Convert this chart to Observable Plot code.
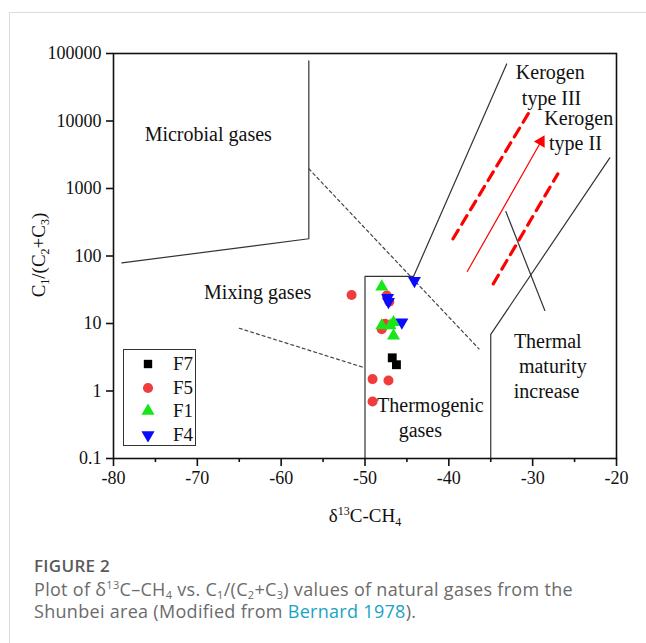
<!DOCTYPE html>
<html>
<head>
<meta charset="utf-8">
<script src="https://cdn.jsdelivr.net/npm/d3@7"></script>
<script src="https://cdn.jsdelivr.net/npm/@observablehq/plot@0.6"></script>
<style>
  html, body { margin: 0; padding: 0; background: #fff; }
  #page { position: relative; width: 646px; height: 643px; overflow: hidden; }
  #card { position: absolute; left: 9px; top: 12px; right: -2px; bottom: -2px;
          border-left: 1px solid #dcdcdc; border-top: 1px solid #dcdcdc; }
  #chart { position: absolute; left: 0; top: 0; }
  #chart svg text { font-family: "Liberation Serif", "Times New Roman", serif; }
  #legend { position: absolute; left: 123px; top: 349px; width: 73px; height: 97px;
            border: 1px solid #333; box-sizing: border-box; background: #fff;
            font-family: "Liberation Serif", serif; font-size: 19px; color: #111; }
  .lrow { position: absolute; left: 0; height: 22px; width: 100%; }
  .lrow svg { position: absolute; left: 17px; top: 4px; }
  .lrow span { position: absolute; left: 49px; top: 0px; line-height: 22px; }
  #caption { position: absolute; left: 34px; top: 553px; width: 610px;
             font-family: "Open Sans", sans-serif; color: #6b6b6b; }
  #caption .fig { font-size: 17px; font-weight: 600; color: #5a5a5a; letter-spacing: 0.3px; line-height: 25px; }
  #caption .txt { font-size: 18px; line-height: 22px; letter-spacing: 0.3px; }
  #caption .sb, #caption .sp { font-size: 11px; line-height: 11px; position: relative; vertical-align: baseline; }
  #caption .sb { top: 3px; }
  #caption .sp { top: -7px; }
  #caption a { color: #1aa3c4; text-decoration: none; }
</style>
</head>
<body>
<div id="page">
  <div id="card"></div>
  <div id="chart"></div>
  <div id="legend"></div>
  <div id="caption">
    <div class="fig">FIGURE 2</div>
    <div class="txt">Plot of δ<span class="sp">13</span>C–CH<span class="sb">4</span> vs. C<span class="sb">1</span>/(C<span class="sb">2</span>+C<span class="sb">3</span>) values of natural gases from the<br>Shunbei area (Modified from <a>Bernard 1978</a>).</div>
  </div>
</div>
<script>
// ---- axis ticks ----
const xTicks = [-80, -70, -60, -50, -40, -30, -20];
const xMinorTicks = [-75, -65, -55, -45, -35, -25];
const yTicks = [0.1, 1, 10, 100, 1000, 10000, 100000];

// ---- series (δ13C-CH4, C1/(C2+C3)) ----
const seriesNames = ["F7", "F5", "F1", "F4"];
const f7 = [[-46.75, 3.1], [-46.25, 2.45]];
const f5 = [[-51.6, 26.5], [-47.4, 26], [-47.1, 21], [-47.6, 9.9], [-48.0, 8.2],
            [-49.1, 1.5], [-47.2, 1.43], [-49.1, 0.7]];
const f1 = [[-48.0, 35], [-48.0, 9.3], [-47.0, 9.3], [-46.6, 10.4], [-46.6, 6.6]];
const f4 = [[-44.1, 43], [-47.3, 24], [-47.2, 21], [-45.6, 10.4]];

// ---- genetic boundaries (modified from Bernard 1978) ----
const microbialBoundary = [[-79, 79], [-56.7, 180], [-56.7, 78000]];
const mixingUpper = [[-56.7, 1960], [-36.4, 4.2]];
const mixingLower = [[-65, 8.5], [-50, 2.2]];
const thermoBox = [[-50, 0.1], [-50, 50], [-44.2, 50]];
const kerogenIII = [[-44.2, 50], [-33.1, 70000]];
const kerogenII = [[-35, 0.1], [-35, 6.9], [-20.8, 2850]];
const maturityPointer = [[-33.2, 456], [-28.55, 15.6]];
const redDash1 = [[-39.5, 180], [-30.5, 13000]];
const redDash2 = [[-34.7, 38.7], [-27.0, 1650]];
const maturityArrow = [[-37.8, 59], [-29.0, 4970]];
const arrowHead = [[-29.0, 4970]];

// ---- annotation labels ----
const labelText = ["Microbial gases", "Mixing gases", "Thermogenic", "gases",
  "Kerogen", "type III", "Kerogen", "type II", "Thermal", "maturity", "increase"];
const labelX = [-68.7, -62.8, -42.2, -43.4, -27.9, -27.75, -24.5, -24.9, -28.2, -27.6, -28.35];
const labelY = [6300, 28.8, 0.61, 0.26, 52400, 21500, 10900, 4640, 5.4, 2.3, 0.98];
const labels = labelText.map((t, i) => ({t, x: labelX[i], y: labelY[i]}));

const pts = a => a.map(([x, y]) => ({x, y}));
const serif = "Liberation Serif, Times New Roman, serif";

const chart = Plot.plot({
  width: 646, height: 540,
  marginTop: 53, marginLeft: 113, marginRight: 30, marginBottom: 82,
  style: {fontFamily: serif, fontSize: "18px", background: "transparent", color: "#111"},
  x: {domain: [-80, -20]},
  y: {type: "log", domain: [0.1, 100000]},
  marks: [
    Plot.line(pts(microbialBoundary), {x: "x", y: "y", stroke: "#333", strokeWidth: 1.2}),
    Plot.line(pts(mixingUpper), {x: "x", y: "y", stroke: "#444", strokeWidth: 1.2, strokeDasharray: "3,3"}),
    Plot.line(pts(mixingLower), {x: "x", y: "y", stroke: "#444", strokeWidth: 1.2, strokeDasharray: "3,3"}),
    Plot.line(pts(thermoBox), {x: "x", y: "y", stroke: "#333", strokeWidth: 1.2}),
    Plot.line(pts(kerogenIII), {x: "x", y: "y", stroke: "#333", strokeWidth: 1.2}),
    Plot.line(pts(kerogenII), {x: "x", y: "y", stroke: "#333", strokeWidth: 1.2}),
    Plot.line(pts(maturityPointer), {x: "x", y: "y", stroke: "#333", strokeWidth: 1.2}),
    Plot.line(pts(redDash1), {x: "x", y: "y", stroke: "#ff0000", strokeWidth: 3.2, strokeDasharray: "10,7"}),
    Plot.line(pts(redDash2), {x: "x", y: "y", stroke: "#ff0000", strokeWidth: 3.2, strokeDasharray: "10,7"}),
    Plot.line(pts(maturityArrow), {x: "x", y: "y", stroke: "#ff0000", strokeWidth: 1.2}),
    Plot.dot(pts(arrowHead), {x: "x", y: "y", symbol: "triangle", r: 4.6, fill: "#ff0000", rotate: 29.5}),
    Plot.text(labels, {x: "x", y: "y", text: "t", fontSize: 20, fill: "#111", fontFamily: serif}),
    Plot.dot(pts(f5), {x: "x", y: "y", symbol: "circle", r: 5, fill: "#f03c3c"}),
    Plot.dot(pts(f7), {x: "x", y: "y", symbol: "square", r: 5, fill: "#000"}),
    Plot.dot(pts(f1), {x: "x", y: "y", symbol: "triangle", r: 4.8, fill: "#19e619"}),
    Plot.dot(pts(f4), {x: "x", y: "y", symbol: "triangle", r: 4.8, fill: "#0a0aff", rotate: 180}),
    Plot.frame({stroke: "#111", strokeWidth: 1.6}),
    Plot.axisX({ticks: xTicks, tickSize: 8, tickPadding: 5, label: null, strokeWidth: 1.6,
                tickFormat: d => String(d), fontSize: 18, fontFamily: serif}),
    Plot.axisX({ticks: xMinorTicks, tickSize: 4, label: null, strokeWidth: 1.6, tickFormat: () => ""}),
    Plot.axisY({ticks: yTicks, tickSize: 7, tickPadding: 5, label: null, strokeWidth: 1.6,
                tickFormat: d => String(d), fontSize: 18, fontFamily: serif})
  ]
});
document.getElementById("chart").appendChild(chart);

// axis titles with sub/superscripts
const svg = d3.select(chart);
const yl = svg.append("text")
  .attr("transform", "translate(45,255) rotate(-90)")
  .attr("text-anchor", "middle")
  .attr("font-family", serif).attr("font-size", 19).attr("fill", "#111");
yl.append("tspan").text("C");
yl.append("tspan").attr("font-size", 12).attr("dy", 4).text("1");
yl.append("tspan").attr("dy", -4).text("/(C");
yl.append("tspan").attr("font-size", 12).attr("dy", 4).text("2");
yl.append("tspan").attr("dy", -4).text("+C");
yl.append("tspan").attr("font-size", 12).attr("dy", 4).text("3");
yl.append("tspan").attr("dy", -4).text(")");

const xl = svg.append("text")
  .attr("x", 365).attr("y", 522)
  .attr("text-anchor", "middle")
  .attr("font-family", serif).attr("font-size", 19).attr("fill", "#111");
xl.append("tspan").text("δ");
xl.append("tspan").attr("font-size", 12).attr("dy", -7).text("13");
xl.append("tspan").attr("dy", 7).text("C-CH");
xl.append("tspan").attr("font-size", 12).attr("dy", 4).text("4");

// legend box
const legendColors = ["#000", "#f03c3c", "#19e619", "#0a0aff"];
const legendSymbols = [d3.symbolSquare, d3.symbolCircle, d3.symbolTriangle, d3.symbolTriangle];
const legendSizes = [70, 80, 75, 75];
const legendRot = [0, 0, 0, 180];
const leg = document.getElementById("legend");
seriesNames.forEach((name, i) => {
  const row = document.createElement("div");
  row.className = "lrow";
  row.style.top = (3 + i * 23.5) + "px";
  const s = d3.create("svg").attr("width", 14).attr("height", 14);
  s.append("path").attr("d", d3.symbol(legendSymbols[i], legendSizes[i])())
    .attr("transform", `translate(7,7) rotate(${legendRot[i]})`).attr("fill", legendColors[i]);
  row.appendChild(s.node());
  const sp = document.createElement("span");
  sp.textContent = name;
  row.appendChild(sp);
  leg.appendChild(row);
});
</script>
</body>
</html>
